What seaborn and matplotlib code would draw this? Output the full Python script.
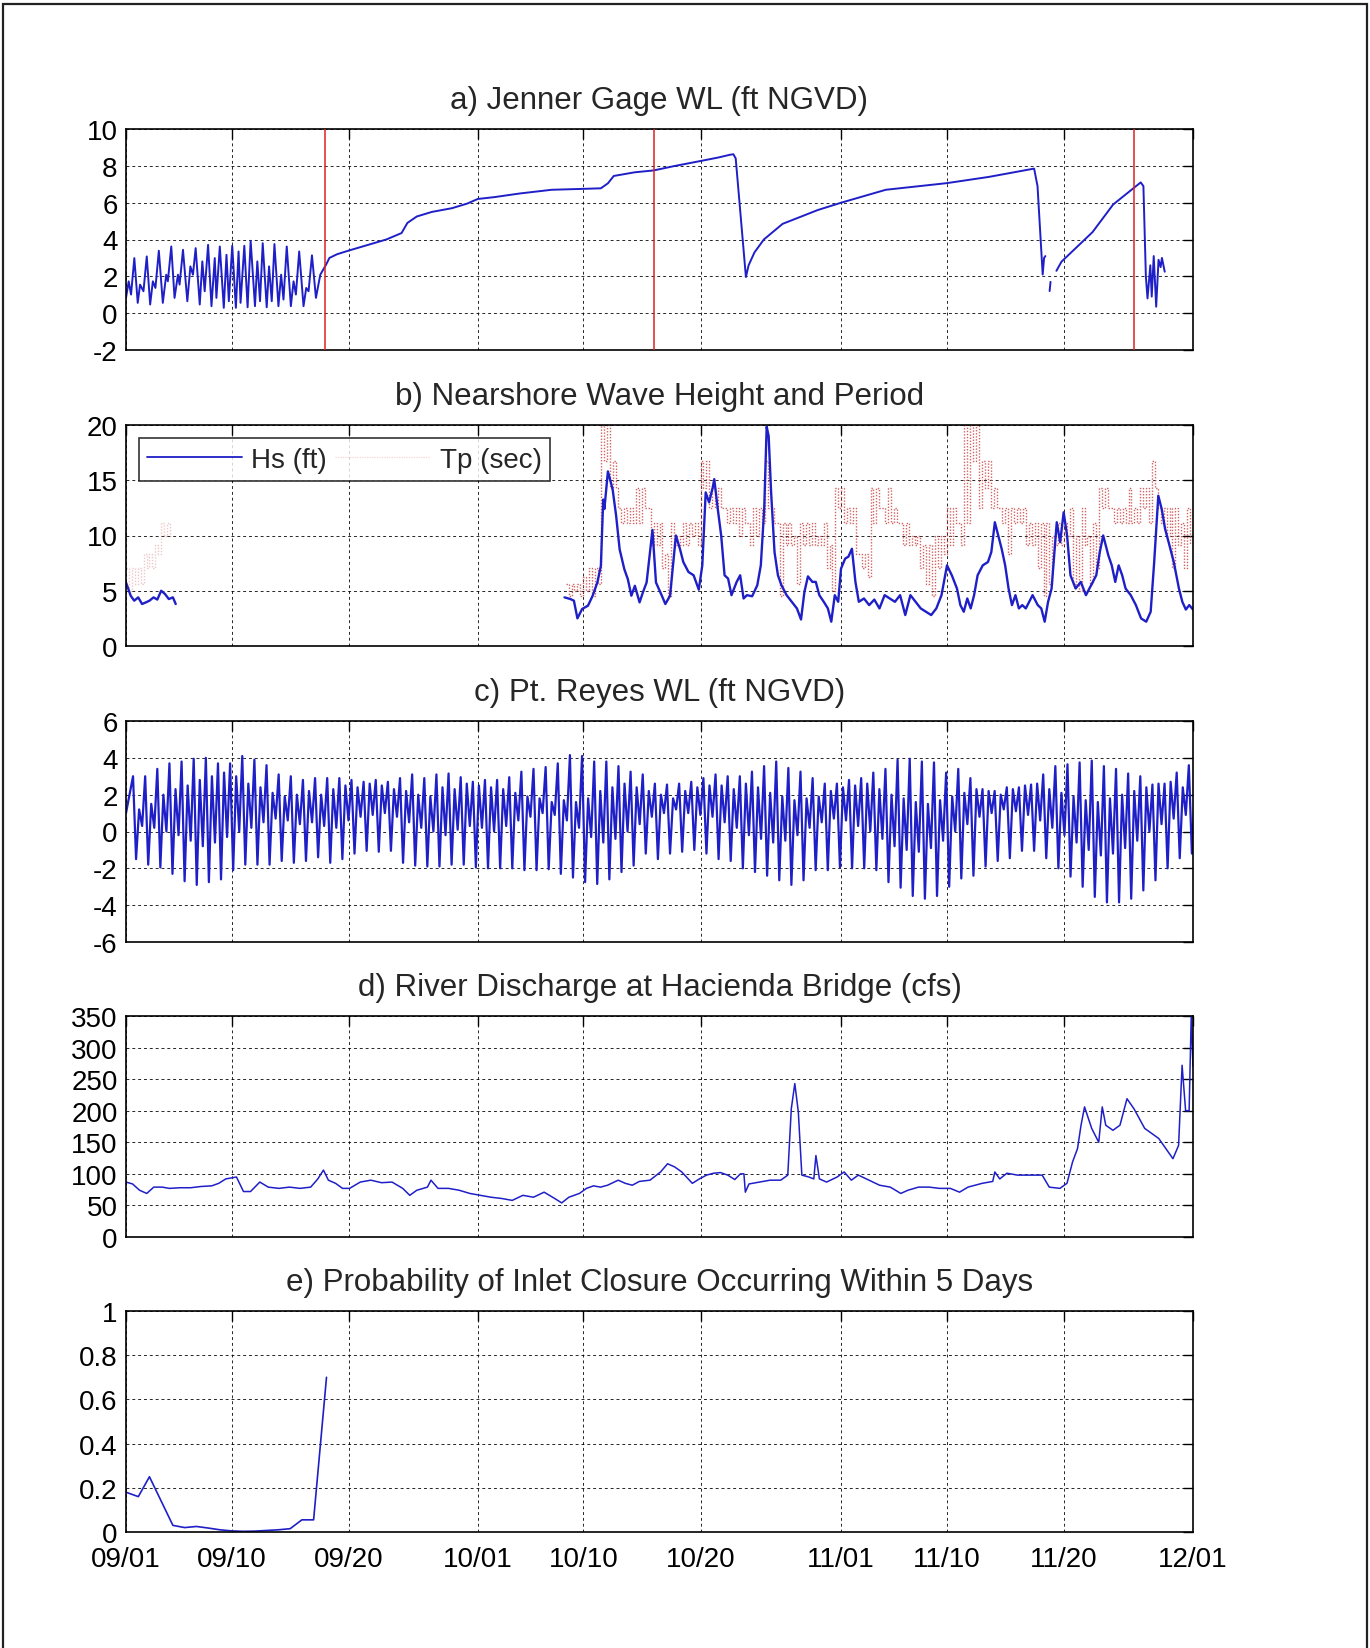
import matplotlib
matplotlib.use("Agg")
import matplotlib.pyplot as plt
from matplotlib.lines import Line2D
from matplotlib.patches import Rectangle
from matplotlib.ticker import FormatStrFormatter
import numpy as np
import pandas as pd
import seaborn as sns

# ---- axis dates ----
start_date = "2008/09/01"
tick_labels = ["09/01", "09/10", "09/20", "10/01", "10/10", "10/20",
               "11/01", "11/10", "11/20", "12/01"]

# ---- a) Jenner gage water level (day since 09/01, ft NGVD); nan = data gap ----
jenner_day = [0.00, 0.23, 0.43, 0.71, 1.00, 1.20, 1.49, 1.77, 2.06, 2.29, 2.51, 2.80,
              3.14, 3.43, 3.57, 3.86, 4.14, 4.43, 4.57, 4.86, 5.23, 5.49, 5.71, 5.94,
              6.29, 6.51, 6.71, 7.00, 7.29, 7.57, 7.71, 8.00, 8.34, 8.57, 8.77, 9.06,
              9.37, 9.60, 9.77, 10.09, 10.37, 10.63, 11.00, 11.20, 11.43, 11.66, 12.00,
              12.20, 12.43, 12.66, 13.00, 13.23, 13.43, 13.71, 14.06, 14.29, 14.49,
              14.77, 15.14, 15.37, 15.57, 15.86, 16.20, 16.57, 17.06,
              17.35, 18.0, 19.0, 20.6, 22.2, 23.5, 24.0, 24.8, 26.1, 27.8, 29.1, 30.0,
              31.4, 33.6, 36.3, 39.0, 40.5, 41.1, 41.6, 43.4, 45.0, 46.7, 48.9, 50.5,
              51.5, 51.8, 52.0, 52.87, 53.1, 53.6, 54.4, 56.0, 59.0, 61.0, 64.8, 70.0,
              73.6, 77.45, 77.74, 78.18, 78.3, 78.41, 78.6, 78.77, 78.85, 79.1, 79.35,
              79.79, 82.43, 84.19, 86.54, 86.77, 86.98, 87.12, 87.36, 87.48, 87.65,
              87.86, 88.06, 88.24, 88.35, 88.59]
jenner_wl = [0.83, 1.73, 1.01, 2.99, 0.56, 1.55, 1.19, 3.08, 0.47, 1.73, 1.37, 3.39,
             0.56, 2.09, 1.73, 3.62, 0.83, 2.09, 1.55, 3.44, 0.65, 2.54, 2.09, 3.53,
             0.47, 2.81, 1.19, 3.71, 0.38, 2.99, 0.83, 3.62, 0.29, 3.17, 0.65, 3.66,
             0.29, 3.35, 0.56, 3.66, 0.32, 3.93, 0.38, 2.81, 0.65, 3.80, 0.32,
             2.54, 0.65, 3.75, 0.38, 2.09, 0.74, 3.62, 0.38, 1.73, 1.01,
             3.35, 0.38, 1.37, 1.19, 3.14, 0.83, 2.09, 2.63,
             3.0, 3.2, 3.4, 3.7, 4.0, 4.35, 4.9, 5.25, 5.5, 5.7, 5.95, 6.2,
             6.3, 6.5, 6.7, 6.75, 6.78, 7.05, 7.45, 7.65, 7.75, 7.98, 8.25, 8.45,
             8.6, 8.63, 8.4, 1.96, 2.6, 3.3, 4.0, 4.85, 5.6, 6.0, 6.7, 7.06,
             7.4, 7.85, 6.9, 2.1, 3.0, 3.1, np.nan, 1.2, 1.7, np.nan, 2.3,
             2.8, 4.4, 5.9, 7.1, 6.9, 2.0, 0.8, 2.6, 0.9, 3.1,
             0.35, 2.9, 2.5, 3.0, 2.25]
closure_markers = [17.0, 45.0, 86.0]

# ---- b) nearshore wave height Hs (ft) ----
hs_day = [0.0, 0.4, 0.7, 1.04, 1.37, 1.7, 2.0, 2.35, 2.67, 3.0, 3.33, 3.65, 4.0, 4.24,
          np.nan,
          37.4, 37.9, 38.2, 38.5, 38.9, 39.4, 39.8, 40.2, 40.5, 40.7, 40.8, 41.1, 41.5,
          41.8, 42.1, 42.5, 42.8, 43.1, 43.4, 43.8, 44.1, 44.4, 44.9, 45.2, 45.7, 46.0,
          46.4, 46.9,
          47.24, 47.53, 47.97, 48.41, 48.85, 49.15, 49.44, 49.73, 50.03, 50.17, 50.47,
          50.76, 51.05, 51.35, 51.64, 52.08, 52.38, 52.67, 52.96, 53.40, 53.84, 54.14,
          54.43, 54.64, 54.81, 55.02, 55.31, 55.60, 55.90, 56.34, 56.78, 57.22, 57.57,
          57.86, 58.16, 58.54, 58.83, 59.13, 59.51, 59.86, 60.15, 60.45, 60.74, 60.98,
          61.33, 61.62, 61.91, 62.21, 62.50, 62.94, 63.38, 63.82, 64.26, 64.70, 65.14,
          65.58, 66.02, 66.46, 66.90, 67.34, 67.78, 68.23, 68.67, 69.11, 69.55, 70.02,
          70.43, 70.87, 71.16, 71.45, 71.75, 72.04, 72.33, 72.63, 73.07, 73.51, 73.80,
          74.10, 74.39, 74.68, 74.98, 75.27, 75.56, 75.86, 76.15, 76.44, 76.74, 77.03,
          77.32, 77.76, 78.06, 78.35, 78.64, 78.94, 79.38, 79.67, 79.97, 80.26, 80.55,
          80.99, 81.43, 81.87, 82.31, 82.75, 83.05, 83.34, 83.78, 84.07, 84.37, 84.66,
          84.96, 85.25, 85.69, 86.13, 86.57, 87.01, 87.39, 87.69, 88.04, 88.33, 88.62,
          88.92, 89.36, 89.80, 90.09, 90.39, 90.68, 91.0]
hs_ft = [5.75, 4.55, 4.1, 4.4, 3.8, 3.95, 4.1, 4.4, 4.2, 5.0, 4.7, 4.25, 4.4, 3.8,
         np.nan,
         4.4, 4.25, 4.1, 2.5, 3.35, 3.65, 4.55, 5.75, 7.25, 13.25, 12.4, 15.8, 14.2,
         11.8, 8.75, 6.95, 6.05, 4.55, 5.45, 3.95, 4.9, 5.75, 10.5, 5.75, 4.55, 3.8,
         4.55, 10.0,
         8.8, 7.6, 6.7, 6.4, 5.1, 7.3, 13.9, 13.0, 14.3, 15.1, 12.4,
         10.0, 6.4, 6.1, 4.6, 5.8, 6.4, 4.3, 4.6, 4.5, 5.5, 7.3,
         12.4, 19.85, 19.0, 13.9, 8.5, 6.4, 5.5, 4.6, 4.0, 3.4, 2.4,
         4.9, 6.3, 5.8, 5.8, 4.6, 4.0, 3.4, 2.2, 4.6, 4.0, 7.0,
         7.9, 8.1, 8.8, 5.8, 4.0, 4.3, 3.7, 4.2, 3.4, 4.6, 4.3,
         4.0, 4.6, 2.8, 4.6, 4.0, 3.4, 3.1, 2.8, 3.4, 4.6, 7.3,
         6.4, 5.2, 3.7, 3.1, 4.3, 3.4, 4.6, 6.4, 7.3, 7.6, 8.5,
         11.2, 10.0, 8.8, 7.3, 5.2, 3.7, 4.6, 3.4, 3.7, 3.4, 4.0,
         4.6, 3.7, 3.4, 2.2, 4.0, 5.2, 11.2, 9.4, 12.1, 10.0, 6.4,
         5.2, 5.8, 4.6, 5.5, 6.4, 8.5, 10.0, 8.2, 7.3, 5.8, 7.3,
         6.4, 5.2, 4.6, 3.7, 2.5, 2.2, 3.1, 7.6, 13.6, 12.4, 10.6,
         9.4, 7.6, 5.2, 4.0, 3.3, 3.7, 3.3]

# ---- b) peak period Tp (sec), quarter-day samples ----
tp_early_start = 0.0
tp_early = [7.1, 5.0, 7.1, 5.6, 7.1, 5.6, 8.3, 7.1, 8.3, 7.1, 9.1, 8.3,
            11.1, 10.0, 11.1, 10.0, 10.0]
tp_main_start = 37.5
tp_main = [
    5.6, 4.5, 5.6, 5.0,  5.6, 4.5, 6.2, 5.0,  7.1, 4.5, 7.1, 5.6,
    20.0, 16.7, 20.0, 14.3,  16.7, 14.3, 12.5, 11.1,  12.5, 11.1, 12.5, 11.1,
    14.3, 11.1, 14.3, 12.5,  12.5, 9.1, 11.1, 9.1,  11.1, 7.1, 8.3, 4.5,
    11.1, 9.1, 10.0, 9.1,  11.1, 9.1, 11.1, 10.0,  11.1, 9.1, 16.7, 14.3,
    16.7, 12.5, 14.3, 12.5,  14.3, 12.5, 12.5, 11.1,  12.5, 11.1, 12.5, 10.0,
    12.5, 11.1, 11.1, 9.1,  12.5, 10.0, 12.5, 11.1,  16.7, 12.5, 12.5, 11.1,
    11.1, 4.5, 11.1, 9.1,  11.1, 9.1, 10.0, 5.6,  11.1, 9.1, 11.1, 9.1,
    11.1, 9.1, 10.0, 9.1,  11.1, 7.1, 9.1, 5.0,  14.3, 12.5, 14.3, 11.1,
    12.5, 11.1, 12.5, 8.3,  8.3, 7.1, 8.3, 6.2,  14.3, 11.1, 14.3, 12.5,
    12.5, 11.1, 14.3, 11.1,  12.5, 11.1, 11.1, 9.1,  11.1, 9.1, 10.0, 9.1,
    10.0, 7.1, 9.1, 5.6,  9.1, 4.5, 10.0, 7.1,  10.0, 8.3, 12.5, 9.1,
    12.5, 11.1, 11.1, 9.1,  20.0, 11.1, 20.0, 16.7,  20.0, 12.5, 16.7, 14.3,
    16.7, 12.5, 14.3, 12.5,  12.5, 11.1, 12.5, 8.3,  12.5, 11.1, 12.5, 11.1,
    12.5, 9.1, 11.1, 9.1,  11.1, 7.1, 11.1, 4.5,  11.1, 5.6, 10.0, 9.1,
    11.1, 9.1, 11.1, 10.0,  12.5, 5.6, 10.0, 5.0,  12.5, 9.1, 10.0, 5.6,
    11.1, 7.1, 14.3, 12.5,  14.3, 12.5, 12.5, 11.1,  12.5, 11.1, 12.5, 11.1,
    14.3, 11.1, 12.5, 11.1,  14.3, 12.5, 14.3, 11.1,  16.7, 14.3, 12.5, 11.1,
    12.5, 10.0, 12.5, 7.1,  12.5, 9.1, 11.1, 7.1,  12.5, 9.1,
]

# ---- c) Pt. Reyes tide: extremes per lunar day (ft NGVD) ----
tide_start_day = 0.6
tide_start_level = 1.0
higher_high = [3.0, 3.0, 3.4, 3.7, 3.8, 3.95, 4.0, 3.7, 3.7, 4.1,
               3.9, 3.6, 3.1, 3.0, 2.8, 2.9, 2.9, 2.9, 2.8, 2.7,
               2.8, 2.7, 2.9, 3.1, 2.9, 3.1, 3.15, 2.95, 2.7, 2.8,
               2.8, 2.95, 3.25, 3.4, 3.5, 3.7, 4.15, 4.1, 3.8, 3.8,
               3.55, 3.25, 3.1, 2.6, 2.55, 2.6, 2.7, 2.9, 3.1, 3.0,
               3.0, 3.25, 3.55, 3.8, 3.45, 3.25, 2.9, 2.6, 2.6, 2.8,
               2.9, 3.2, 3.4, 3.9, 3.95, 3.8, 3.75, 3.2, 3.4, 2.9,
               2.3, 2.2, 2.4, 2.4, 2.55, 3.1, 3.55, 3.65, 3.75, 3.85,
               3.55, 3.4, 3.15, 3.0, 2.55, 2.6, 3.2, 3.6]
lower_low = [-1.5, -1.8, -1.95, -2.3, -2.7, -2.9, -2.75, -2.6, -2.1, -1.8,
             -1.8, -1.8, -1.6, -1.7, -1.6, -1.4, -1.7, -1.5, -1.2, -1.05,
             -1.1, -1.05, -1.7, -1.85, -1.9, -1.9, -1.8, -1.8, -1.95, -2.0,
             -2.0, -2.0, -2.1, -2.1, -2.05, -2.3, -2.5, -2.75, -2.85, -2.6,
             -2.2, -1.85, -1.2, -1.5, -1.2, -1.1, -1.0, -1.2, -1.5, -1.6,
             -2.0, -2.2, -2.4, -2.65, -2.9, -2.65, -2.1, -2.1, -1.95, -2.0,
             -2.0, -2.1, -2.75, -3.05, -3.5, -3.65, -3.5, -3.0, -2.55, -2.4,
             -1.9, -1.6, -1.45, -1.05, -1.05, -1.45, -2.0, -2.45, -3.0, -3.55,
             -3.85, -3.85, -3.65, -3.2, -2.65, -2.0, -1.45, -1.2]
lower_high = [1.2, 1.5, 2.0, 2.3, 2.5, 2.8, 3.0, 3.2, 3.0, 2.6,
              2.4, 2.1, 1.9, 2.0, 2.2, 2.0, 2.3, 2.5, 2.4, 2.6,
              2.5, 2.3, 2.2, 2.0, 1.9, 2.4, 2.3, 2.6, 2.5, 2.4,
              2.3, 2.1, 1.9, 1.8, 1.6, 1.7, 1.6, 1.8, 2.2, 2.4,
              2.6, 2.4, 2.2, 2.0, 1.8, 2.2, 2.4, 2.5, 2.5, 2.3,
              2.6, 2.4, 2.1, 1.9, 1.7, 1.8, 1.9, 2.2, 2.4, 2.5,
              2.6, 2.3, 2.0, 1.8, 1.6, 1.5, 1.7, 1.9, 2.1, 2.3,
              2.2, 2.0, 2.3, 2.5, 2.6, 2.3, 2.1, 1.9, 1.7, 1.6,
              1.8, 2.0, 2.2, 2.4, 2.6, 2.7, 2.4, 2.2]
higher_low = [0.3, 0.2, 0.0, -0.2, -0.5, -0.8, -0.6, -0.3, 0.0, 0.2,
              0.5, 0.7, 0.6, 0.4, 0.5, 0.3, 0.2, 0.6, 0.8, 0.9,
              1.0, 0.8, 0.5, 0.2, 0.0, -0.2, 0.1, 0.3, 0.2, 0.0,
              0.3, 0.6, 0.8, 1.0, 0.9, 0.6, 0.2, -0.3, -0.6, -0.4,
              0.0, 0.4, 0.8, 1.0, 1.2, 1.0, 0.9, 0.8, 0.5, 0.2,
              -0.2, -0.4, -0.6, -0.5, -0.2, 0.2, 0.5, 0.7, 0.6, 0.3,
              0.0, -0.4, -0.8, -1.0, -1.1, -0.9, -0.5, 0.0, 0.4, 0.8,
              1.0, 1.2, 1.1, 0.9, 0.6, 0.2, -0.2, -0.6, -1.0, -1.3,
              -1.2, -0.9, -0.5, 0.0, 0.4, 0.7, 0.9, 1.0]
lunar_day = 1.035

# ---- d) river discharge at Hacienda Bridge (cfs) ----
flow_day = [0.0, 0.56, 1.16, 1.77, 2.37, 3.09, 3.70, 4.60, 5.50, 6.41, 7.31, 7.91,
            8.51, 9.42, 10.02, 10.62, 11.41, 12.13, 13.04, 13.94, 14.85, 15.75, 16.36,
            16.84, 17.26, 17.87, 18.47, 19.07, 19.98, 20.88, 21.79, 22.69, 23.60,
            24.20, 24.80, 25.71, 26.01, 26.61, 27.51, 28.42, 29.32, 30.23, 31.13,
            32.04, 32.94, 33.85, 34.75, 35.66, 36.56, 37.16, 37.77, 38.67, 39.27,
            39.87, 40.47, 41.07, 41.98, 42.58, 43.18, 43.78, 44.69, 45.59, 46.19,
            46.79, 47.40, 48.30, 48.90, 49.51, 50.11, 50.71, 51.32, 51.92, 52.40,
            52.70, 52.82, 53.13, 54.03, 54.93, 55.84, 56.44, 56.74, 57.04, 57.34,
            57.64, 58.24, 58.66, 58.84, 59.14, 59.75, 60.65, 61.25, 61.86, 62.46,
            63.37, 64.27, 65.18, 66.08, 66.68, 67.59, 68.49, 69.39, 70.30, 71.09,
            71.81, 73.02, 73.92, 74.10, 74.52, 75.13, 76.03, 77.24, 78.14, 78.74,
            79.65, 80.25, 80.73, 81.15, 81.45, 81.75, 82.36, 82.96, 83.26, 83.56,
            84.17, 84.77, 85.37, 85.97, 86.88, 88.08, 89.29, 89.77, 90.07, 90.37,
            90.67, 90.85, 91.0]
flow_cfs = [87, 84, 74, 69, 79, 79, 77, 78, 78, 80, 81, 85,
            92, 95, 72, 72, 87, 79, 77, 79, 77, 79, 92,
            106, 90, 85, 77, 77, 87, 90, 86, 87, 77,
            66, 74, 79, 90, 77, 77, 74, 69, 66, 63,
            61, 58, 66, 63, 71, 61, 54, 63, 69, 77,
            81, 79, 82, 90, 85, 82, 88, 90, 103, 116,
            111, 103, 85, 92, 98, 101, 102, 98, 91, 100,
            100, 71, 84, 87, 90, 90, 98, 203, 243, 198,
            98, 95, 92, 129, 92, 87, 95, 103, 90, 98,
            90, 82, 79, 69, 74, 79, 79, 77, 77, 71,
            79, 85, 88, 103, 92, 101, 98, 98, 98, 79,
            77, 85, 119, 140, 177, 206, 172, 150, 206, 177,
            169, 177, 219, 203, 172, 156, 124, 145, 272, 200,
            200, 351, 270]

# ---- e) probability of inlet closure within 5 days ----
prob_day = [0, 1.05, 2.0, 4.0, 5.0, 6.0, 7.0, 8.0, 9.0, 10.0, 11.0, 12.0, 13.0,
            14.0, 15.0, 16.0, 17.1]
prob_close = [0.18, 0.16, 0.25, 0.03, 0.02, 0.025, 0.018, 0.01, 0.005, 0.003,
              0.004, 0.007, 0.01, 0.015, 0.055, 0.055, 0.7]

titles = ["a) Jenner Gage WL (ft NGVD)", "b) Nearshore Wave Height and Period",
          "c) Pt. Reyes WL (ft NGVD)", "d) River Discharge at Hacienda Bridge (cfs)",
          "e) Probability of Inlet Closure Occurring Within 5 Days"]

BLUE = "#1f1fc8"
RED = "#dd2222"
FS = 20

sns.set_theme(style="white")
plt.rcParams["font.family"] = ["Liberation Sans", "DejaVu Sans"]
plt.rcParams["axes.unicode_minus"] = False


def segments(days, values):
    """Split a series at nan gaps into separate frames."""
    df = pd.DataFrame({"day": days, "val": values})
    gap = df["val"].isna() | df["day"].isna()
    grp = gap.cumsum()
    return [g for _, g in df[~gap].groupby(grp[~gap])]


def draw(ax, days, values, **kw):
    for seg in segments(days, values):
        sns.lineplot(data=seg, x="day", y="val", ax=ax, sort=False,
                     estimator=None, **kw)


fig = plt.figure(figsize=(13.7, 16.49), dpi=100)
left, width, height = 126 / 1370, 1067 / 1370, 221 / 1649
tops = [130, 426, 722, 1017, 1312]
axes = [fig.add_axes([left, 1 - (t + 221) / 1649, width, height]) for t in tops]

start = pd.Timestamp(start_date)
tick_pos = [(pd.Timestamp("2008/" + s) - start).days for s in tick_labels]

# a)
ax = axes[0]
for d in closure_markers:
    ax.axvline(d, color=RED, lw=1.1, zorder=3)
draw(ax, jenner_day, jenner_wl, color=BLUE, lw=1.4)
ax.set_ylim(-2, 10)
ax.set_yticks(range(-2, 11, 2))

# b)
ax = axes[1]
tp_d1 = tp_early_start + 0.25 * np.arange(len(tp_early))
tp_d2 = tp_main_start + 0.25 * np.arange(len(tp_main))
tp_style = dict(color="#c84848", lw=1.0, linestyle=(0, (1, 1.2)), alpha=0.85,
                drawstyle="steps-post")
draw(ax, tp_d1, tp_early, **{**tp_style, "alpha": 0.3})
draw(ax, tp_d2, tp_main, **tp_style)
draw(ax, hs_day, hs_ft, color=BLUE, lw=1.7)
ax.set_ylim(0, 20)
ax.set_yticks(range(0, 21, 5))
handles = [Line2D([], [], color=BLUE, lw=1.3),
           Line2D([], [], color="#d86060", lw=0.8, linestyle=(0, (1, 1.2)), alpha=0.3)]
leg = ax.legend(handles, ["Hs (ft)", "Tp (sec)"], loc="upper left",
                bbox_to_anchor=(0.012, 0.94), ncol=2, fontsize=20, frameon=True,
                fancybox=False, edgecolor="black", handlelength=3.4,
                columnspacing=0.3, handletextpad=0.35, borderpad=0.3,
                borderaxespad=0)
leg.get_frame().set_linewidth(1.2)

# c)
ax = axes[2]
extremes = np.column_stack([higher_high, lower_low, lower_high, higher_low]).ravel()
tide_day = np.concatenate([[0.0], tide_start_day + lunar_day / 4 * np.arange(len(extremes))])
tide_lvl = np.concatenate([[tide_start_level], extremes])
draw(ax, tide_day, tide_lvl, color=BLUE, lw=1.6)
ax.set_ylim(-6, 6)
ax.set_yticks(range(-6, 7, 2))

# d)
ax = axes[3]
draw(ax, flow_day, flow_cfs, color=BLUE, lw=1.1)
ax.set_ylim(0, 350)
ax.set_yticks(range(0, 351, 50))

# e)
ax = axes[4]
draw(ax, prob_day, prob_close, color=BLUE, lw=1.2)
ax.set_ylim(0, 1)
ax.set_yticks(np.arange(0, 1.01, 0.2))
ax.yaxis.set_major_formatter(FormatStrFormatter("%g"))

for i, ax in enumerate(axes):
    ax.set_xlim(0, tick_pos[-1])
    ax.set_xticks(tick_pos)
    ax.set_xticklabels(tick_labels if i == 4 else [])
    ax.set_xlabel("")
    ax.set_ylabel("")
    ax.set_title(titles[i], fontsize=22.5, pad=15)
    ax.grid(True, color="black", linestyle=(0, (3, 3)), lw=0.7, alpha=0.85)
    ax.tick_params(direction="in", top=True, right=True, length=7, width=1,
                   labelsize=FS, pad=6, colors="black")
    ax.tick_params(axis="x", pad=10)
    for sp in ax.spines.values():
        sp.set_visible(True)
        sp.set_color("black")
        sp.set_linewidth(1.2)
    if ax.get_legend() is not None and i != 1:
        ax.get_legend().remove()

fig.patches.append(Rectangle((0.0025, -0.01), 0.995, 1.007, transform=fig.transFigure,
                             fill=False, lw=1.6, edgecolor="#222222"))

fig.savefig("out.png", dpi=100, facecolor="white")
